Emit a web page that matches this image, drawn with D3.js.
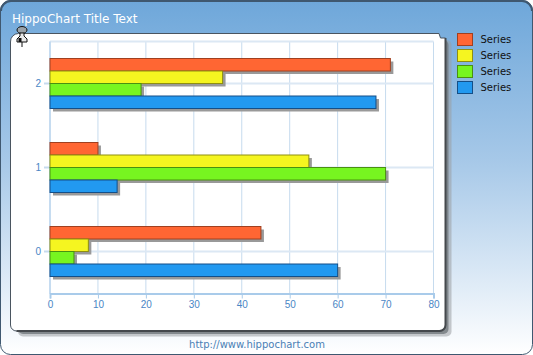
<!DOCTYPE html>
<html lang="en">
<head>
<meta charset="UTF-8">
<title>HippoChart</title>
<script src="https://cdn.jsdelivr.net/npm/d3@7"></script>
<style>
    html, body { margin: 0; padding: 0; background: #fff; }
    svg { display: block; font-family: "DejaVu Sans", sans-serif; }
    .tick text { font-size: 10px; fill: #4a86c5; }
</style>
</head>
<body>
<div id="graphDiv"></div>
<script>
    const categories = ["2", "1", "0"];
    const seriesNames = ["a", "b", "c", "d"];
    const seriesLabels = ["Series", "Series", "Series", "Series"];
    const seriesColors = ["#ff6633", "#f5f520", "#77f520", "#2299f0"];
    const seriesStrokes = ["#a04020", "#8f8f10", "#4a9010", "#144f88"];
    // values for category 2, 1, 0
    const values0 = [71, 10, 44];
    const values1 = [36, 54, 8];
    const values2 = [19, 70, 5];
    const values3 = [68, 14, 60];
    const allValues = [values0, values1, values2, values3];
    const xTicks = [0, 10, 20, 30, 40, 50, 60, 70, 80];

    const width = 533, height = 355;
    const margin = {top: 41.5, right: 99.5, bottom: 61.5, left: 50};

    const svg = d3.select("#graphDiv").append("svg")
        .attr("width", width)
        .attr("height", height);

    const defs = svg.append("defs");
    const grad = defs.append("linearGradient")
        .attr("id", "bg").attr("x1", 0).attr("y1", 0).attr("x2", 0).attr("y2", 1);
    grad.append("stop").attr("offset", "0%").attr("stop-color", "#6ea7da");
    grad.append("stop").attr("offset", "45%").attr("stop-color", "#a6c8e8");
    grad.append("stop").attr("offset", "100%").attr("stop-color", "#ffffff");

    // outer frame
    svg.append("rect")
        .attr("x", 0.5).attr("y", 0.5)
        .attr("width", width - 1).attr("height", height - 1)
        .attr("rx", 10)
        .attr("fill", "url(#bg)")
        .attr("stroke", "#3f5870");
    svg.append("path")
        .attr("d", "M1,11A10,10 0 0 1 11,1H522A10,10 0 0 1 532,11")
        .attr("fill", "none")
        .attr("stroke", "#3f5870")
        .attr("stroke-width", 2);

    svg.append("text")
        .attr("x", 12).attr("y", 23)
        .attr("font-size", 12)
        .attr("fill", "#fff")
        .text("HippoChart Title Text");

    // white card, notched at the top right, with a two step shadow
    const cardShape = "M10.5,42A8,8 0 0 1 18.5,33.5H439L440.5,38H445.5V325A6,6 0 0 1 439.5,331H16.5A6,6 0 0 1 10.5,325Z";
    svg.append("rect")
        .attr("x", 18).attr("y", 40)
        .attr("width", 433.5).attr("height", 296.5)
        .attr("rx", 5)
        .attr("fill", "#9a9fa3")
        .attr("opacity", 0.55);
    svg.append("rect")
        .attr("x", 18).attr("y", 40)
        .attr("width", 430.5).attr("height", 294)
        .attr("rx", 5)
        .attr("fill", "#6e7478")
        .attr("opacity", 0.75);
    svg.append("path")
        .attr("d", cardShape)
        .attr("fill", "#fff")
        .attr("stroke", "#4a5560");
    svg.append("path")
        .attr("d", "M445.5,38V325A6,6 0 0 1 439.5,331H16.5")
        .attr("fill", "none")
        .attr("stroke", "#45494d")
        .attr("stroke-width", 2);

    const x = d3.scaleLinear()
        .domain([0, 80])
        .range([margin.left, width - margin.right]);

    const y = d3.scaleBand()
        .domain(categories)
        .range([margin.top, height - margin.bottom]);

    const yInner = d3.scaleBand()
        .domain(seriesNames)
        .range([y.bandwidth() / 2 - 25, y.bandwidth() / 2 + 25]);

    // grid
    svg.append("g").selectAll("line")
        .data(xTicks)
        .join("line")
        .attr("x1", d => x(d)).attr("x2", d => x(d))
        .attr("y1", margin.top).attr("y2", height - margin.bottom)
        .attr("stroke", "#c6dbee");
    svg.append("g").selectAll("line")
        .data(categories)
        .join("line")
        .attr("x1", margin.left).attr("x2", width - margin.right)
        .attr("y1", d => y(d) + y.bandwidth() / 2).attr("y2", d => y(d) + y.bandwidth() / 2)
        .attr("stroke", "#dce8f4")
        .attr("stroke-width", 2);
    svg.append("line")
        .attr("x1", margin.left).attr("x2", width - margin.right)
        .attr("y1", margin.top).attr("y2", margin.top)
        .attr("stroke", "#dce8f4").attr("stroke-width", 2);

    // axes
    const xAxis = svg.append("g")
        .attr("transform", `translate(0,${height - margin.bottom})`)
        .call(d3.axisBottom(x).tickValues(xTicks).tickSize(5).tickPadding(2));
    xAxis.selectAll("path,line").attr("stroke", "#a9cbea");
    xAxis.select("path").attr("stroke-width", 2);

    const yAxis = svg.append("g")
        .attr("transform", `translate(${margin.left},0)`)
        .call(d3.axisLeft(y).tickSize(6).tickPadding(3));
    yAxis.selectAll("line").attr("stroke", "#c6dbee").attr("stroke-width", 2);
    yAxis.select("path").attr("stroke", "#a9cbea").attr("d", `M0,${margin.top}V${height - margin.bottom}`);

    // bars, shadow first
    seriesNames.forEach((name, i) => {
        const g = svg.append("g");
        g.selectAll("rect.shadow")
            .data(allValues[i])
            .join("rect")
            .attr("class", "shadow")
            .attr("x", x(0) + 3)
            .attr("y", (d, j) => y(categories[j]) + yInner(name) + 3)
            .attr("width", d => x(d) - x(0))
            .attr("height", yInner.bandwidth())
            .attr("fill", "#999");
    });
    seriesNames.forEach((name, i) => {
        const g = svg.append("g");
        g.selectAll("rect.bar")
            .data(allValues[i])
            .join("rect")
            .attr("class", "bar")
            .attr("x", x(0))
            .attr("y", (d, j) => y(categories[j]) + yInner(name))
            .attr("width", d => x(d) - x(0))
            .attr("height", yInner.bandwidth())
            .attr("fill", seriesColors[i])
            .attr("stroke", seriesStrokes[i]);
    });

    // legend
    const legend = svg.append("g").attr("transform", "translate(457.5,33.5)");
    seriesLabels.forEach((label, i) => {
        const row = legend.append("g").attr("transform", `translate(0,${i * 16})`);
        row.append("rect")
            .attr("width", 15).attr("height", 12)
            .attr("fill", seriesColors[i])
            .attr("stroke", seriesStrokes[i]);
        row.append("text")
            .attr("x", 23).attr("y", 9.5)
            .attr("font-size", 10)
            .attr("fill", "#111")
            .text(label);
    });

    // footer
    svg.append("text")
        .attr("x", 257).attr("y", 348)
        .attr("text-anchor", "middle")
        .attr("font-size", 10)
        .attr("fill", "#4a7fb5")
        .text("http://www.hippochart.com");

    // pin
    const pin = svg.append("g").attr("transform", "translate(22,30)");
    pin.append("ellipse").attr("cx", 0).attr("cy", 0).attr("rx", 5).attr("ry", 3.5)
        .attr("fill", "#9aa2a8").attr("stroke", "#111");
    pin.append("path").attr("d", "M-2,3V6L-5,9V12H5V9L2,6V3Z")
        .attr("fill", "#e8e8e8").attr("stroke", "#111");
    pin.append("rect").attr("x", -3.5).attr("y", 8).attr("width", 3).attr("height", 4).attr("fill", "#111");
    pin.append("line").attr("x1", 0).attr("x2", 0).attr("y1", 12).attr("y2", 17).attr("stroke", "#111");
</script>
</body>
</html>
